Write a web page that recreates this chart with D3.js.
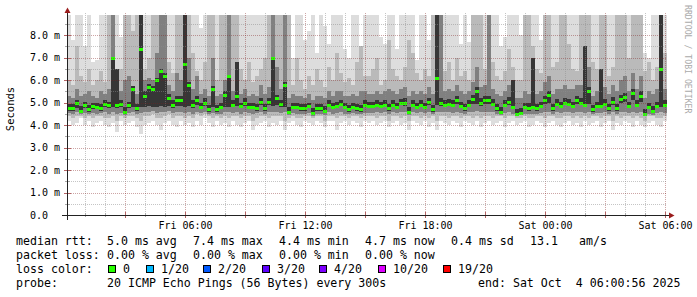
<!DOCTYPE html>
<html>
<head>
<meta charset="utf-8">
<script src="https://cdn.jsdelivr.net/npm/d3@7"></script>
<style>
  body { margin: 0; background: #fff; }
  text { font-family: "DejaVu Sans Mono", monospace; white-space: pre; }
</style>
</head>
<body>
<svg id="chart" width="697" height="297"></svg>
<script>
// median rtt per 12 min bin (ms)
const median = [
  4.75,4.75,5.0,4.65,4.9,4.7,4.85,4.8,4.75,4.95,
  4.9,7.0,4.9,4.95,4.6,4.9,5.6,4.75,7.4,5.3,
  5.7,5.6,6.0,6.4,6.2,5.2,4.9,5.1,5.1,6.7,
  5.8,4.9,5.1,4.8,5.0,4.7,5.6,4.7,4.8,5.35,
  6.2,4.9,5.3,4.85,5.0,4.8,4.8,4.75,5.05,4.75,
  5.05,7.0,5.2,4.95,5.8,4.6,4.8,4.8,4.75,4.75,
  4.85,4.55,4.75,4.75,4.65,4.9,4.8,4.85,4.95,4.8,
  4.72,4.8,4.75,4.7,4.9,4.85,4.85,4.9,4.85,4.9,
  4.75,4.9,4.8,5.0,5.0,4.6,4.9,4.8,4.9,4.8,
  5.05,4.7,6.1,5.0,4.9,4.95,4.9,5.1,4.85,4.75,
  4.9,5.15,5.5,5.0,5.1,5.1,4.95,4.75,4.6,4.9,
  5.05,4.8,4.5,4.55,4.8,4.78,4.8,4.75,4.85,5.1,
  5.35,4.75,4.95,4.85,5.0,4.95,4.85,5.1,5.0,4.9,
  5.5,4.7,4.85,4.85,4.95,4.75,5.05,4.75,5.15,5.25,
  4.85,5.45,4.9,5.3,4.5,4.8,4.65,4.85,6.5,4.9
];
// slowest ping (top of the smoke)
const pingMax = [
  8.9,7.8,8.9,8.9,7.5,8.9,6.8,6.9,8.9,8.9,
  8.9,8.9,8.9,7.9,8.9,8.9,8.9,8.9,8.9,8.9,
  8.9,8.9,8.9,8.9,8.9,8.9,8.9,8.9,8.9,8.9,
  8.9,8.9,8.9,8.3,8.9,8.9,8.9,8.9,8.9,8.9,
  8.9,8.9,8.9,8.9,8.9,8.9,8.9,8.9,8.9,8.9,
  8.9,8.9,8.9,8.9,8.9,7.5,7.0,8.9,8.9,7.8,
  8.2,8.9,7.2,8.9,8.4,7.6,8.9,8.9,8.9,7.4,
  7.0,8.9,8.9,6.8,8.9,8.9,8.9,8.9,7.9,7.6,
  8.9,8.9,7.4,8.9,8.9,8.9,8.9,6.9,8.9,8.9,
  7.8,8.2,8.9,8.9,8.9,8.9,8.9,8.9,7.6,8.9,
  7.7,8.9,8.9,8.9,8.9,8.9,8.9,8.9,7.5,7.9,
  8.9,8.9,8.9,8.0,8.9,8.9,8.9,8.9,7.8,8.9,
  8.9,8.9,8.9,7.3,8.9,8.9,8.9,8.9,8.9,8.9,
  8.9,8.9,8.9,8.9,7.7,8.9,8.9,8.9,8.9,8.9,
  8.9,8.9,7.6,8.9,7.2,7.0,8.9,8.9,8.9,8.9
];
// fastest ping (bottom of the smoke)
const pingMin = [
  4.2,4.0,4.1,4.3,4.0,4.2,3.9,4.1,4.2,4.0,
  3.9,4.1,3.7,4.2,4.0,4.1,4.2,3.9,3.6,4.0,
  4.1,4.2,4.0,3.8,4.1,4.2,4.0,3.9,4.2,4.0,
  4.1,3.9,4.2,4.0,4.3,4.1,3.9,4.2,4.0,4.1,
  3.9,4.2,4.0,3.9,4.1,4.2,3.8,4.0,4.1,4.2,
  3.9,4.1,4.0,4.2,3.8,4.1,4.2,4.0,3.9,4.2,
  4.1,4.0,4.2,4.1,3.9,4.2,4.2,3.8,4.1,4.2,
  4.0,4.2,4.1,3.9,4.2,4.1,4.2,4.0,4.1,4.2,
  3.9,4.1,4.2,4.0,4.1,3.8,4.2,4.1,4.0,4.2,
  3.9,4.1,3.8,4.2,4.1,4.0,4.2,4.1,3.9,4.2,
  4.1,4.0,4.2,3.9,4.1,4.2,4.0,4.1,4.2,3.9,
  4.1,4.2,4.0,4.1,4.2,3.9,4.0,4.2,4.1,3.9,
  4.1,4.2,4.0,3.9,4.1,4.2,4.0,4.1,3.9,4.2,
  4.0,4.1,4.2,3.9,4.1,4.2,3.8,4.1,4.0,4.2,
  4.1,3.9,4.2,4.0,3.9,4.1,4.2,4.0,3.9,4.2
];
// 3rd and 18th of 20 pings
const outerHi = [
  6.0,5.8,7.5,6.2,5.9,6.5,5.8,6.0,6.4,5.9,
  8.9,8.9,6.2,6.5,8.9,8.9,8.2,8.9,8.9,6.5,
  7.0,8.9,8.9,8.9,8.9,6.8,6.3,8.9,8.9,8.9,
  8.9,7.2,6.4,6.0,6.8,8.9,8.9,6.0,8.9,8.9,
  8.9,8.9,8.9,6.5,6.0,6.8,5.9,6.2,6.5,7.0,
  8.9,8.9,8.9,8.9,8.9,8.9,5.8,7.0,6.0,5.6,
  6.2,5.8,6.5,6.0,5.7,6.6,6.0,7.2,6.3,5.9,
  6.1,5.8,6.8,7.5,6.2,6.2,6.5,7.0,5.8,6.0,
  7.8,6.5,6.2,6.0,6.6,7.8,7.2,6.3,6.0,6.5,
  6.2,8.9,8.9,8.9,6.4,6.8,6.0,7.0,6.2,6.4,
  6.0,8.9,8.9,8.9,6.5,8.9,6.8,6.2,6.0,6.4,
  7.4,6.6,6.0,6.0,8.9,8.9,7.5,6.5,6.3,8.9,
  8.9,6.6,6.8,8.9,8.9,7.6,6.5,6.4,8.9,8.9,
  8.9,6.8,6.5,8.9,8.9,6.2,6.6,8.9,8.9,8.9,
  7.0,8.9,8.9,8.9,6.4,6.8,6.0,6.6,8.9,7.2
];
const outerLo = [
  4.4,4.3,4.4,4.4,4.3,4.4,4.3,4.4,4.4,4.3,
  4.3,4.4,4.2,4.4,4.3,4.4,4.4,4.3,4.2,4.4,
  4.4,4.5,4.3,4.3,4.4,4.5,4.3,4.4,4.4,4.3,
  4.4,4.3,4.5,4.4,4.5,4.4,4.3,4.4,4.3,4.4,
  4.3,4.4,4.4,4.3,4.4,4.4,4.2,4.3,4.4,4.4,
  4.3,4.4,4.4,4.4,4.2,4.3,4.4,4.3,4.3,4.4,
  4.4,4.3,4.4,4.4,4.2,4.4,4.4,4.3,4.4,4.4,
  4.3,4.4,4.4,4.3,4.4,4.4,4.4,4.3,4.4,4.4,
  4.2,4.4,4.4,4.3,4.4,4.2,4.4,4.4,4.3,4.4,
  4.3,4.4,4.2,4.4,4.4,4.3,4.4,4.4,4.3,4.4,
  4.4,4.3,4.4,4.3,4.4,4.4,4.3,4.4,4.4,4.3,
  4.4,4.4,4.3,4.3,4.4,4.3,4.3,4.4,4.4,4.3,
  4.4,4.4,4.3,4.3,4.4,4.4,4.3,4.4,4.3,4.4,
  4.3,4.4,4.4,4.3,4.4,4.4,4.2,4.4,4.3,4.4,
  4.4,4.3,4.4,4.3,4.2,4.4,4.4,4.3,4.3,4.4
];
// 6th and 15th of 20 pings
const innerHi = [
  5.3,5.2,5.6,5.3,5.4,5.5,5.3,5.2,5.5,5.4,
  5.6,8.9,5.4,5.5,6.0,6.2,5.5,5.4,8.9,6.0,
  6.1,6.0,7.2,8.9,8.9,5.8,5.5,6.3,6.0,8.9,
  7.0,5.6,6.2,5.4,5.6,5.3,7.0,5.3,5.4,6.0,
  8.9,5.5,6.4,5.4,5.6,5.3,5.4,5.3,5.8,5.4,
  5.7,8.9,6.6,5.6,8.9,5.2,5.4,5.3,5.3,5.2,
  5.4,5.1,5.3,5.3,5.2,5.5,5.3,5.5,5.5,5.3,
  5.3,5.4,5.3,5.5,5.5,5.4,5.4,5.5,5.4,5.5,
  5.6,5.5,5.4,5.6,5.7,5.3,5.5,5.4,5.5,5.4,
  5.7,5.4,8.9,8.9,5.5,5.6,5.5,5.8,5.5,5.4,
  5.5,5.9,6.6,5.7,5.8,8.9,5.6,5.4,5.3,5.5,
  5.8,5.4,5.2,5.2,5.5,5.4,5.5,5.4,5.5,5.9,
  6.2,5.4,5.6,5.6,5.8,5.6,5.6,5.8,5.8,5.6,
  6.6,5.3,5.5,5.6,5.7,5.4,5.8,5.5,6.0,6.2,
  5.5,6.3,5.6,6.2,5.2,5.5,5.4,5.6,8.9,5.6
];
const innerLo = [
  4.55,4.5,4.6,4.5,4.55,4.5,4.55,4.5,4.55,4.6,
  4.5,4.6,4.5,4.55,4.45,4.55,4.6,4.5,4.55,4.6,
  4.6,4.65,4.55,4.6,4.6,4.65,4.55,4.6,4.6,4.55,
  4.6,4.5,4.6,4.55,4.6,4.5,4.55,4.5,4.5,4.6,
  4.6,4.55,4.6,4.5,4.6,4.55,4.5,4.55,4.6,4.5,
  4.6,4.6,4.6,4.55,4.6,4.45,4.55,4.5,4.5,4.5,
  4.55,4.4,4.5,4.5,4.45,4.6,4.5,4.55,4.6,4.5,
  4.5,4.55,4.5,4.5,4.55,4.55,4.55,4.6,4.55,4.6,
  4.5,4.6,4.55,4.6,4.6,4.45,4.6,4.55,4.6,4.55,
  4.6,4.5,4.6,4.6,4.6,4.6,4.55,4.6,4.55,4.5,
  4.6,4.6,4.65,4.6,4.6,4.6,4.6,4.5,4.45,4.55,
  4.6,4.5,4.4,4.45,4.5,4.5,4.5,4.5,4.55,4.6,
  4.6,4.5,4.6,4.55,4.6,4.6,4.55,4.6,4.6,4.55,
  4.6,4.5,4.55,4.55,4.6,4.5,4.6,4.5,4.6,4.6,
  4.55,4.6,4.55,4.6,4.4,4.5,4.45,4.55,4.6,4.55
];
// 9th and 12th of 20 pings
const coreHi = [
  4.95,4.95,5.1,4.85,5.05,4.9,5.0,5.0,4.95,5.1,
  5.05,7.0,6.5,5.1,4.8,5.05,5.75,4.95,8.9,5.5,
  5.85,5.75,6.1,6.5,6.3,5.4,5.1,5.3,5.3,8.9,
  5.9,5.1,5.3,5.0,5.2,4.9,5.75,4.9,5.0,5.5,
  6.2,5.1,6.8,5.0,5.2,5.0,5.0,4.95,5.2,4.95,
  5.2,7.0,5.35,5.1,5.9,4.8,5.0,5.0,4.95,4.95,
  5.0,4.75,4.95,4.95,4.85,5.1,5.0,5.05,5.1,5.0,
  4.9,5.0,4.95,4.9,5.1,5.05,5.05,5.1,5.05,5.1,
  4.95,5.1,5.0,5.15,5.2,4.8,5.1,5.0,5.1,5.0,
  5.2,4.9,8.9,5.2,5.1,5.15,5.1,5.3,5.05,4.95,
  5.1,5.35,5.7,5.2,5.3,5.3,5.15,4.95,4.8,5.1,
  5.25,6.0,4.7,4.75,5.0,5.0,7.0,4.95,5.05,5.3,
  5.5,4.95,5.15,5.05,5.2,5.15,5.05,5.3,5.2,7.5,
  5.7,4.9,5.05,6.5,5.15,4.95,5.25,4.95,5.35,5.45,
  5.05,5.6,5.1,5.5,4.7,5.0,4.85,5.05,8.9,5.1
];
const coreLo = [
  4.65,4.65,4.75,4.55,4.75,4.6,4.7,4.7,4.65,4.8,
  4.75,4.8,4.75,4.8,4.5,4.75,4.8,4.65,4.8,4.8,
  4.85,4.8,4.8,4.85,4.8,4.85,4.75,4.85,4.85,4.8,
  4.85,4.75,4.9,4.7,4.85,4.6,4.8,4.6,4.7,4.8,
  4.8,4.8,4.85,4.75,4.85,4.7,4.7,4.65,4.9,4.65,
  4.9,4.85,4.9,4.8,4.8,4.5,4.7,4.7,4.65,4.65,
  4.75,4.45,4.65,4.65,4.55,4.8,4.7,4.75,4.85,4.7,
  4.6,4.7,4.65,4.6,4.8,4.75,4.75,4.8,4.75,4.8,
  4.65,4.8,4.7,4.9,4.85,4.5,4.8,4.7,4.8,4.7,
  4.9,4.6,4.9,4.85,4.8,4.85,4.8,4.95,4.75,4.65,
  4.8,4.95,4.95,4.85,4.95,4.95,4.85,4.65,4.5,4.8,
  4.9,4.7,4.4,4.45,4.7,4.65,4.7,4.65,4.75,4.95,
  5.0,4.65,4.85,4.75,4.9,4.85,4.75,4.95,4.9,4.8,
  4.95,4.6,4.75,4.75,4.85,4.65,4.9,4.65,5.0,5.05,
  4.75,5.1,4.8,5.05,4.4,4.7,4.55,4.75,4.8,4.8
];

const yTicks = [0, 1, 2, 3, 4, 5, 6, 7, 8];
const rttLine = ["median rtt:", "5.0 ms avg", "7.4 ms max", "4.4 ms min", "4.7 ms now", "0.4 ms sd", "13.1", "am/s"];
const lossLine = ["packet loss:", "0.00 % avg", "0.00 % max", "0.00 % min", "0.00 % now"];
const lossLabels = ["0", "1/20", "2/20", "3/20", "4/20", "10/20", "19/20"];
const lossColors = ["#26ff00", "#00b8ff", "#0059ff", "#5e00ff", "#7e00ff", "#dd00ff", "#ff0000"];
const probeLine = ["probe:", "20 ICMP Echo Pings (56 Bytes) every 300s", "end: Sat Oct  4 06:00:56 2025"];

const svg = d3.select("#chart");
const N = median.length;
const start = new Date(2025, 9, 3, 0, 6);
const step = 12 * 60 * 1000;
const times = d3.range(N + 1).map(i => new Date(+start + i * step));

const x = d3.scaleTime().domain([start, times[N]]).range([67, 667]);
const y = d3.scaleLinear().domain([0, 8.9]).range([215, 15]).clamp(true);

// smoke, outermost first
const bands = [
  { lo: pingMin, hi: pingMax, color: "#dddddd" },
  { lo: outerLo, hi: outerHi, color: "#bababa" },
  { lo: innerLo, hi: innerHi, color: "#808080" },
  { lo: coreLo, hi: coreHi, color: "#363636" }
];
const plot = svg.append("g").attr("shape-rendering", "crispEdges");
bands.forEach(b => {
  plot.append("g").selectAll("rect")
    .data(d3.range(N))
    .enter().append("rect")
    .attr("x", i => x(times[i]))
    .attr("width", i => x(times[i + 1]) - x(times[i]))
    .attr("y", i => y(b.hi[i]))
    .attr("height", i => y(b.lo[i]) - y(b.hi[i]))
    .attr("fill", b.color);
});

// median marks
plot.append("g").selectAll("rect")
  .data(d3.range(N))
  .enter().append("rect")
  .attr("x", i => x(times[i]))
  .attr("width", i => x(times[i + 1]) - x(times[i]))
  .attr("y", i => Math.round(y(median[i])) - 1)
  .attr("height", 3)
  .attr("fill", lossColors[0]);

// grid on top, like rrdtool
const grid = svg.append("g");
const hours = x.ticks(d3.timeHour.every(1));
grid.selectAll(".vg")
  .data(hours)
  .enter().append("line")
  .attr("x1", d => Math.round(x(d)) + 0.5)
  .attr("x2", d => Math.round(x(d)) + 0.5)
  .attr("y1", 13).attr("y2", 215)
  .attr("stroke", d => d.getHours() % 3 == 0 ? "rgba(130,30,30,0.4)" : "rgba(140,140,140,0.5)")
  .attr("stroke-dasharray", "1,1");

const halfSteps = d3.range(1, 18).map(k => k * 0.5);
grid.selectAll(".hg")
  .data(halfSteps)
  .enter().append("line")
  .attr("x1", 67).attr("x2", 667)
  .attr("y1", d => Math.round(y(d)) + 0.5)
  .attr("y2", d => Math.round(y(d)) + 0.5)
  .attr("stroke", d => d % 1 == 0 ? "rgba(130,30,30,0.4)" : "rgba(140,140,140,0.5)")
  .attr("stroke-dasharray", "1,1");

// ticks on the axes
grid.selectAll(".xt")
  .data(hours)
  .enter().append("line")
  .attr("x1", d => Math.round(x(d)) + 0.5)
  .attr("x2", d => Math.round(x(d)) + 0.5)
  .attr("y1", d => d.getHours() % 3 == 0 ? 212 : 213)
  .attr("y2", d => d.getHours() % 3 == 0 ? 218 : 217)
  .attr("stroke", d => d.getHours() % 3 == 0 ? "#b46464" : "#aaa");
grid.selectAll(".yt")
  .data(halfSteps)
  .enter().append("line")
  .attr("x1", d => d % 1 == 0 ? 64 : 65)
  .attr("x2", d => d % 1 == 0 ? 71 : 70)
  .attr("y1", d => Math.round(y(d)) + 0.5)
  .attr("y2", d => Math.round(y(d)) + 0.5)
  .attr("stroke", d => d % 1 == 0 ? "#b46464" : "#aaa");

// axis lines and arrows
svg.append("line").attr("x1", 62).attr("x2", 670).attr("y1", 215.5).attr("y2", 215.5).attr("stroke", "#222");
svg.append("line").attr("x1", 67.5).attr("x2", 67.5).attr("y1", 220).attr("y2", 12).attr("stroke", "#222");
svg.append("path").attr("d", "M67.5,7.5L64.5,13L70.5,13Z").attr("fill", "#9a1c1c");
svg.append("path").attr("d", "M674.5,215.5L669,212.5L669,218.5Z").attr("fill", "#9a1c1c");

// y labels
svg.append("g").selectAll("text")
  .data(yTicks)
  .enter().append("text")
  .attr("x", 30)
  .attr("y", d => y(d) + 3.5)
  .attr("font-size", "10px")
  .text(d => d == 0 ? "0.0" : d.toFixed(1) + " m");

// x labels
const xAxis = svg.append("g")
  .attr("transform", "translate(0,215)")
  .call(d3.axisBottom(x)
    .ticks(d3.timeHour.every(6))
    .tickFormat(d3.timeFormat("%a %H:%M"))
    .tickSize(0)
    .tickPadding(6.5));
xAxis.select(".domain").remove();
xAxis.selectAll("text")
  .attr("font-family", "DejaVu Sans Mono, monospace")
  .attr("font-size", "10px")
  .attr("fill", "#000");

svg.append("text")
  .attr("transform", "translate(14,109) rotate(-90)")
  .attr("text-anchor", "middle")
  .attr("font-family", "DejaVu Sans, sans-serif")
  .attr("font-size", "10.5px")
  .text("Seconds");

svg.append("text")
  .attr("transform", "translate(685,5) rotate(90)")
  .attr("font-size", "8.2px")
  .attr("fill", "#aaa")
  .text("RRDTOOL / TOBI OETIKER");

// legend
const legend = svg.append("g").attr("font-size", "11.6px");
const colX = [16, 107, 193, 279, 365, 451, 530, 579];
legend.selectAll(".l1").data(rttLine).enter().append("text")
  .attr("x", (d, i) => colX[i]).attr("y", 245).text(d => d);
legend.selectAll(".l2").data(lossLine).enter().append("text")
  .attr("x", (d, i) => colX[i]).attr("y", 259).text(d => d);
legend.append("text").attr("x", 16).attr("y", 273).text("loss color:");
const boxX = [108, 146, 203, 262, 319, 378, 443];
legend.selectAll(".lb").data(lossColors).enter().append("rect")
  .attr("x", (d, i) => boxX[i] + 0.5).attr("y", 265.5)
  .attr("width", 7).attr("height", 7)
  .attr("fill", d => d).attr("stroke", "#000");
legend.selectAll(".lt").data(lossLabels).enter().append("text")
  .attr("x", (d, i) => boxX[i] + 15).attr("y", 273).text(d => d);
const probeX = [16, 107, 478];
legend.selectAll(".l4").data(probeLine).enter().append("text")
  .attr("x", (d, i) => probeX[i]).attr("y", 287).text(d => d);
</script>
</body>
</html>
